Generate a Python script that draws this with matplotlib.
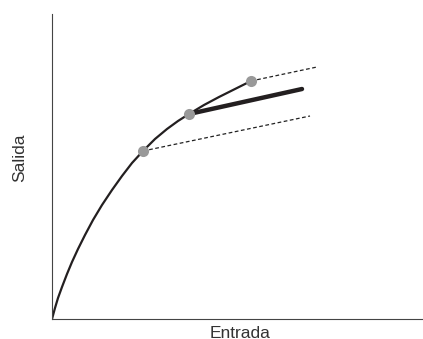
import numpy as np
import matplotlib.pyplot as plt

plt.rcParams['font.family'] = ['Liberation Sans', 'DejaVu Sans']

# curva de respuesta (entrada -> salida)
curve_x = [0, 3, 6, 10, 15, 20, 26, 33, 41, 50, 60, 70, 80, 91,
           103, 115, 126, 137, 152, 167, 183, 199]
curve_y = [0, 11, 21, 32, 45, 57, 70, 84, 99, 114, 129, 143, 156, 168,
           180, 190, 198, 205, 214, 222, 230, 238]

# puntos marcados sobre la curva
dots_x = [91, 137, 199]
dots_y = [168, 205, 238]

# rectas que salen de los puntos
upper_x = [199, 265]
upper_y = [238, 252]
thick_x = [137, 250]
thick_y = [205, 230]
lower_x = [91, 258]
lower_y = [168, 203]

fig = plt.figure(figsize=(4.23, 3.39), dpi=100)
ax = fig.add_axes([52 / 423, 20 / 339, 371 / 423, 305 / 339])

ax.plot(upper_x, upper_y, color='#222222', lw=0.9, ls=(0, (3, 2)))
ax.plot(lower_x, lower_y, color='#222222', lw=0.9, ls=(0, (3, 2)))
ax.plot(curve_x, curve_y, color='#231f20', lw=1.6,
        solid_capstyle='round', solid_joinstyle='round')
ax.plot(thick_x, thick_y, color='#231f20', lw=3.2, solid_capstyle='round')
ax.plot(dots_x, dots_y, 'o', color='#999999', ms=8, mec='none', zorder=5)

ax.set_xlim(0, 371)
ax.set_ylim(0, 305)
ax.set_xticks([])
ax.set_yticks([])
for s in ['top', 'right']:
    ax.spines[s].set_visible(False)
for s in ['left', 'bottom']:
    ax.spines[s].set_color('#444444')
    ax.spines[s].set_linewidth(0.8)

fig.text(240 / 423, 1 - 333 / 339, 'Entrada', ha='center', va='center',
         fontsize=12.5, color='#333333')
fig.text(20 / 423, 1 - 158 / 339, 'Salida', ha='center', va='center',
         rotation=90, fontsize=12.5, color='#333333')

fig.savefig('out.png', dpi=100)
